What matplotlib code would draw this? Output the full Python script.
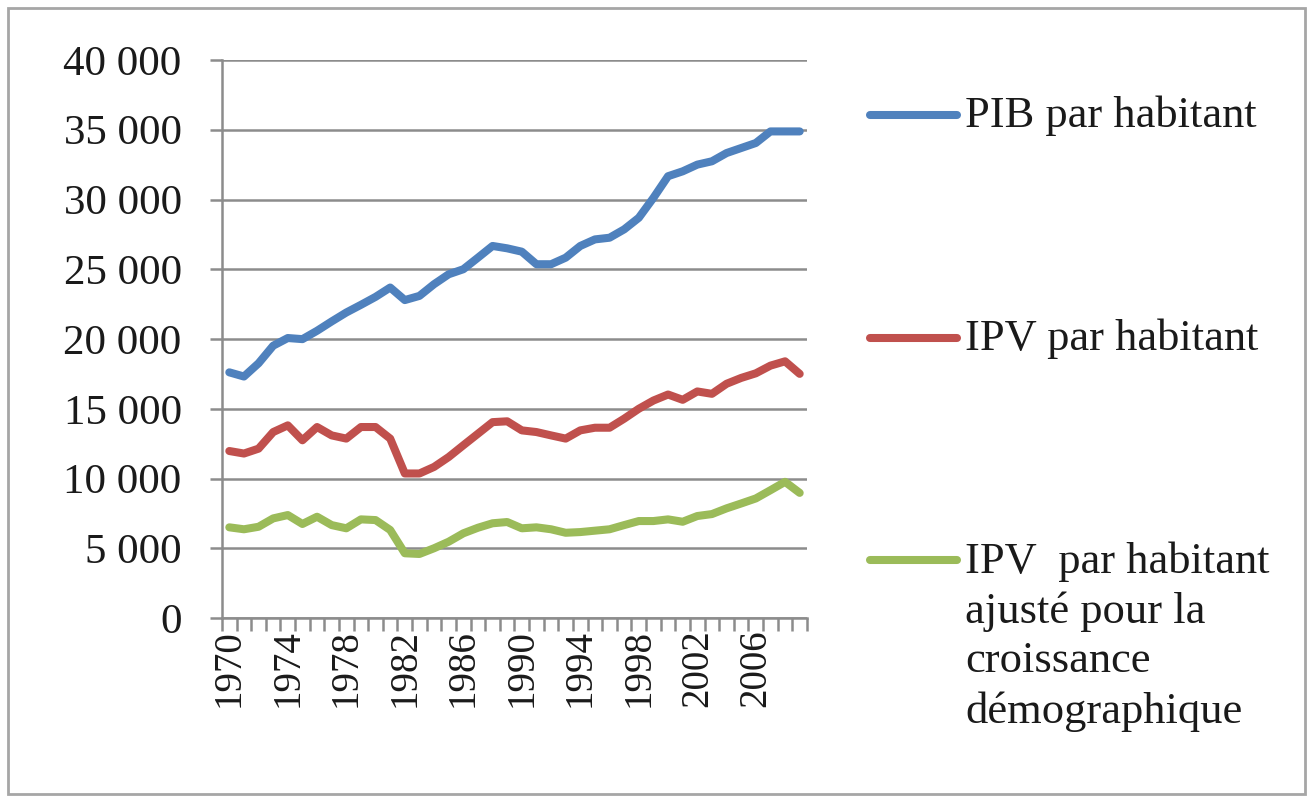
import matplotlib
matplotlib.use('Agg')
import matplotlib.pyplot as plt
from matplotlib.ticker import FuncFormatter, MultipleLocator
from matplotlib.lines import Line2D
from matplotlib.patches import Rectangle

years = list(range(1970, 2010))
pib = [17610, 17310, 18260, 19520, 20070, 19990, 20590, 21260, 21900, 22450,
       23020, 23690, 22790, 23090, 23930, 24640, 25000, 25830, 26670, 26500,
       26260, 25360, 25360, 25830, 26670, 27140, 27260, 27860, 28690, 30120,
       31670, 32020, 32500, 32740, 33330, 33690, 34050, 34880, 34880, 34880]
ipv = [11970, 11790, 12140, 13330, 13810, 12740, 13690, 13090, 12860, 13690,
       13690, 12860, 10360, 10360, 10830, 11540, 12380, 13210, 14040, 14100,
       13450, 13330, 13090, 12860, 13450, 13640, 13640, 14290, 15000, 15590,
       16020, 15640, 16240, 16070, 16790, 17210, 17540, 18090, 18400, 17500]
ipv_adj = [6500, 6360, 6540, 7140, 7380, 6740, 7260, 6660, 6430, 7070,
           7020, 6310, 4640, 4590, 5000, 5470, 6070, 6470, 6790, 6880,
           6430, 6500, 6360, 6110, 6160, 6260, 6360, 6660, 6950, 6950,
           7070, 6900, 7310, 7450, 7860, 8210, 8570, 9160, 9760, 8970]
labels = ['PIB par habitant', 'IPV par habitant',
          'IPV  par habitant\najusté pour la\ncroissance\ndémographique']
colors = ['#4F81BD', '#C0504D', '#9BBB59']

plt.rcParams['font.family'] = ['Liberation Serif', 'DejaVu Serif']
W, H = 1312, 797
fig = plt.figure(figsize=(W / 100, H / 100), dpi=100)
fig.add_artist(Rectangle((8 / W, 3 / H), 1297 / W, 786 / H, transform=fig.transFigure,
                         fill=False, edgecolor='#a6a6a6', linewidth=2))

ax = fig.add_axes([222 / W, 1 - 618 / H, 585 / W, 558 / H])
for series, c in zip([pib, ipv, ipv_adj], colors):
    ax.plot(years, series, color=c, linewidth=5.8, solid_joinstyle='round',
            solid_capstyle='round', zorder=3)

ax.set_xlim(1969.5, 2009.5)
ax.set_ylim(0, 40000)
ax.yaxis.set_major_locator(MultipleLocator(5000))
ax.yaxis.set_major_formatter(FuncFormatter(lambda v, p: '{:,.0f}'.format(v).replace(',', ' ')))
ax.grid(axis='y', color='#8c8c8c', linewidth=1.8, zorder=1)
ax.set_axisbelow(True)

ax.set_xticks(years[::4])
ax.set_xticklabels([str(y) for y in years[::4]], rotation=90)
ax.set_xticks([y - 0.5 for y in years] + [years[-1] + 0.5], minor=True)
ax.tick_params(axis='x', which='major', length=0, pad=8, labelsize=28, labelcolor='#1a1a1a')
ax.tick_params(axis='x', which='minor', length=9.5, width=1.8, color='#8c8c8c', direction='out')
ax.tick_params(axis='y', length=9, width=1.8, color='#8c8c8c', pad=20, labelsize=31,
               labelcolor='#1a1a1a')

for s in ['top', 'right']:
    ax.spines[s].set_visible(False)
for s in ['left', 'bottom']:
    ax.spines[s].set_color('#8c8c8c')
    ax.spines[s].set_linewidth(1.8)

# legend drawn by hand, Excel style
leg_y = [115, 338, 560]
for yy, lab, c in zip(leg_y, labels, colors):
    fig.add_artist(Line2D([870 / W, 957 / W], [1 - yy / H, 1 - yy / H], transform=fig.transFigure,
                          color=c, linewidth=5.8, solid_capstyle='round'))
    fig.text(965 / W, 1 - (yy - 19) / H, lab, fontsize=32, color='#1a1a1a',
             va='top', ha='left', linespacing=1.31)

fig.savefig('out.png', dpi=100)
